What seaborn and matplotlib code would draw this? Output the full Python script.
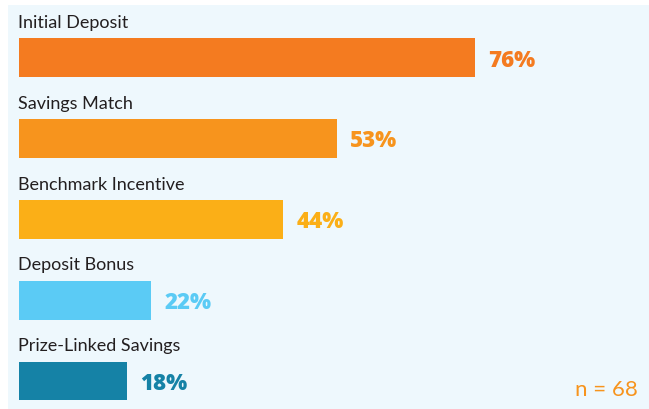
import matplotlib
matplotlib.use("Agg")
import matplotlib.pyplot as plt
import seaborn as sns
import pandas as pd
from matplotlib.patches import Rectangle

categories = ["Initial Deposit", "Savings Match", "Benchmark Incentive",
              "Deposit Bonus", "Prize-Linked Savings"]
values = [76, 53, 44, 22, 18]
value_labels = ["76%", "53%", "44%", "22%", "18%"]
colors = ["#F47B20", "#F7941D", "#FBAF17", "#5BCBF5", "#1582A6"]
note = "n = 68"

sns.set_theme(style="white")
plt.rcParams["font.family"] = ["Lato", "DejaVu Sans"]

W, H = 649, 410
fig = plt.figure(figsize=(W / 100, H / 100), dpi=100, facecolor="white")
bg = Rectangle((8 / W, 0), 1 - 8 / W, (H - 6) / H,
               transform=fig.transFigure, facecolor="#EEF8FD",
               edgecolor="none", zorder=-10)
fig.patches.append(bg)
ax = fig.add_axes([0, 0, 1, 1])
ax.set_zorder(5)
ax.set_facecolor("none")

df = pd.DataFrame({"category": categories, "value": values})
sns.barplot(data=df, x="value", y="category", hue="category",
            palette=colors, orient="h", width=0.48, legend=False,
            ax=ax, saturation=1, linewidth=0, edgecolor="none")

ax.set_xlim(-19 / 6.0, (W - 19) / 6.0)
ax.set_ylim(4.347, -0.728)
ax.axis("off")

for i, (cat, v, lab, c) in enumerate(zip(categories, values, value_labels, colors)):
    ax.text(-0.1, i - 0.38, cat, ha="left", va="baseline", fontsize=13,
            color="#231F20")
    ax.text(v + 2.2, i + 0.097, lab, ha="left", va="baseline", fontsize=16,
            fontweight=800, family=["Open Sans", "DejaVu Sans"], color=c)

fig.text(638 / W, 1 - 395.7 / H, note, ha="right", va="baseline",
         fontsize=16, color="#F7941D", zorder=6)

fig.savefig("out.png", dpi=100, facecolor="white")
